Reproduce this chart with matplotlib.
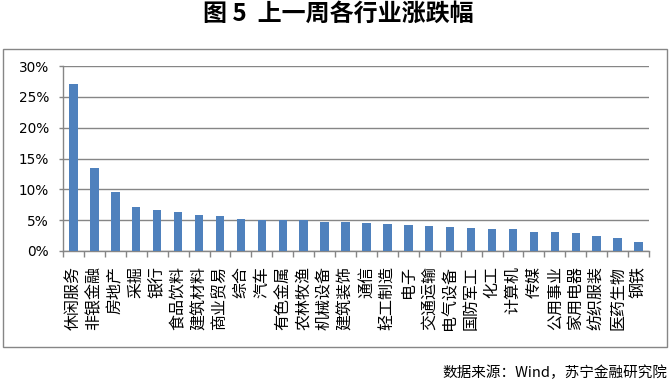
import numpy as np
import matplotlib
matplotlib.use('Agg')
import matplotlib.pyplot as plt
from matplotlib.patches import Rectangle
from matplotlib.ticker import PercentFormatter

plt.rcParams['font.family'] = ['Noto Sans CJK SC', 'DejaVu Sans']

# Industry names and weekly change (%)
industries = ['休闲服务', '非银金融', '房地产', '采掘', '银行', '食品饮料', '建筑材料',
              '商业贸易', '综合', '汽车', '有色金属', '农林牧渔', '机械设备', '建筑装饰',
              '通信', '轻工制造', '电子', '交通运输', '电气设备', '国防军工', '化工',
              '计算机', '传媒', '公用事业', '家用电器', '纺织服装', '医药生物', '钢铁']
changes = [27.1, 13.5, 9.6, 7.2, 6.7, 6.4, 5.9, 5.6, 5.2, 5.1, 4.97, 4.96, 4.76, 4.75,
           4.54, 4.43, 4.27, 4.1, 3.95, 3.78, 3.62, 3.61, 3.14, 3.13, 2.97, 2.49, 2.16, 1.51]
yticks = [0, 5, 10, 15, 20, 25, 30]

grid_col = '#868686'
bar_col = '#4F81BD'

fig = plt.figure(figsize=(6.7, 3.83), dpi=100)
ax = fig.add_axes([63 / 670, 1 - 251 / 383, (649 - 63) / 670, (251 - 66) / 383])

x = np.arange(len(industries))
ax.bar(x, changes, width=0.4, color=bar_col, zorder=3)

ax.set_ylim(0, 30)
ax.set_xlim(-0.5, len(industries) - 0.5)
ax.set_yticks(yticks)
ax.yaxis.set_major_formatter(PercentFormatter(decimals=0))
ax.grid(axis='y', color=grid_col, linewidth=1, zorder=0)

# boundaries get tick marks, centers get the labels
ax.set_xticks(np.arange(-0.5, len(industries)), minor=False)
ax.set_xticklabels([])
ax.set_xticks(x, minor=True)
ax.set_xticklabels(industries, minor=True, rotation=90, fontsize=11.5, va='top', ha='center')
ax.tick_params(axis='x', which='major', length=4, color=grid_col, width=1)
ax.tick_params(axis='x', which='minor', length=0, pad=11)
ax.tick_params(axis='y', length=3, color=grid_col, width=1, labelsize=9.8, pad=7)
for lbl in ax.get_yticklabels():
    lbl.set_family('DejaVu Sans')

for s in ['top', 'right']:
    ax.spines[s].set_visible(False)
for s in ['left', 'bottom']:
    ax.spines[s].set_color(grid_col)
    ax.spines[s].set_linewidth(1)

# outer chart frame
fig.patches.append(Rectangle((3 / 670, 1 - 347 / 383), 664 / 670, 298 / 383,
                             transform=fig.transFigure, fill=False,
                             edgecolor=grid_col, linewidth=1))

fig.text(338 / 670, 1 - 14 / 383, '图 5  上一周各行业涨跌幅', ha='center', va='center',
         fontsize=17.3, fontweight='bold')
fig.text(667 / 670, 1 - 373 / 383, '数据来源：Wind，苏宁金融研究院', ha='right', va='center',
         fontsize=10.5, style='italic')

fig.savefig('out.png', dpi=100)
